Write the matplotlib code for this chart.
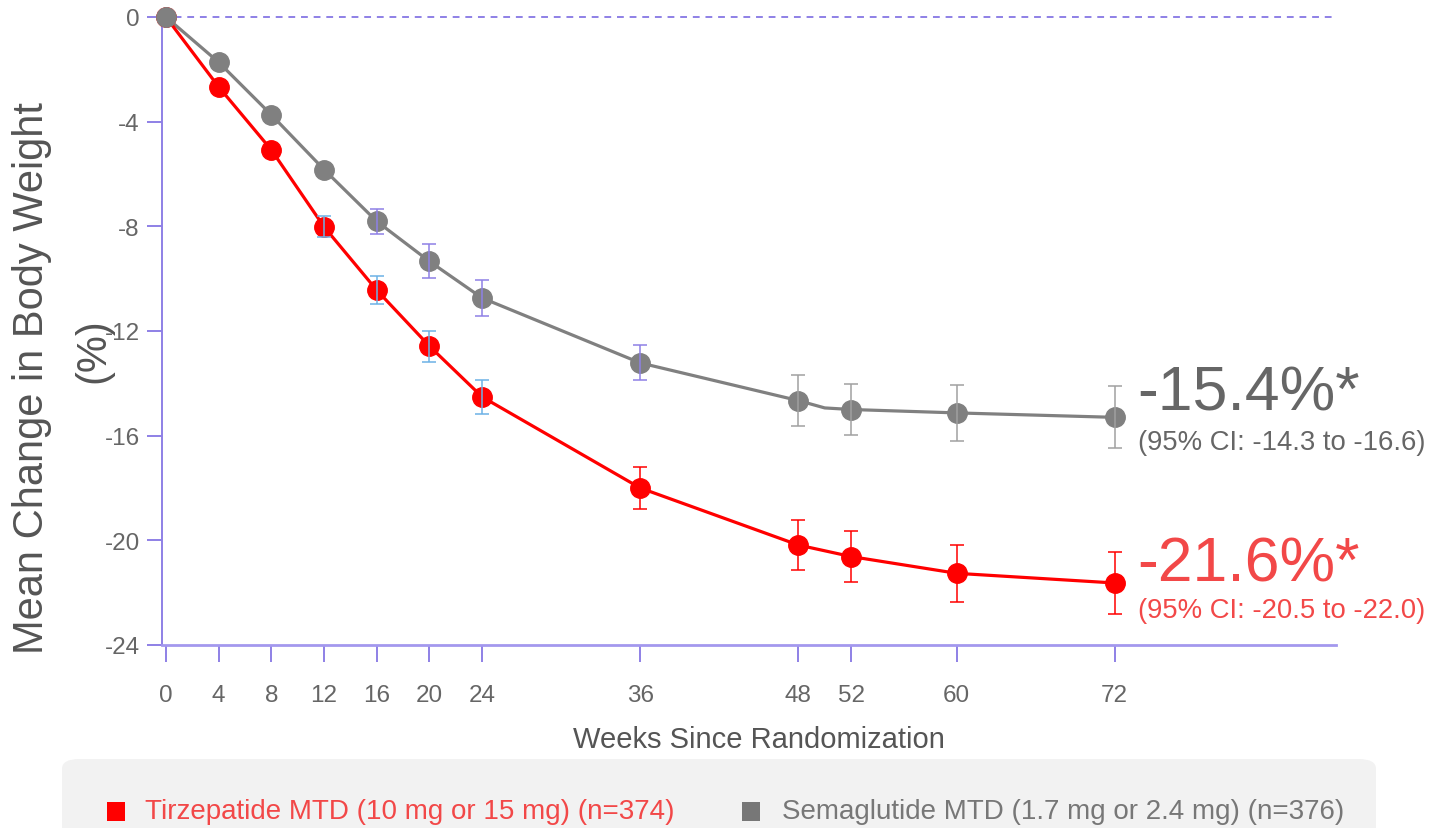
import matplotlib
matplotlib.use("Agg")
import matplotlib.pyplot as plt
from matplotlib.patches import FancyBboxPatch, Rectangle
import numpy as np

plt.rcParams["font.family"] = ["Liberation Sans", "DejaVu Sans"]
plt.rcParams["axes.unicode_minus"] = False

# data
weeks_tirz = [0, 4, 8, 12, 16, 20, 24, 36, 48, 52, 60, 72]
tirz = [0, -2.67, -5.08, -8.02, -10.44, -12.58, -14.52, -18.0, -20.18, -20.62, -21.26, -21.63]
tirz_err = [0, 0, 0, 0.40, 0.54, 0.59, 0.66, 0.81, 0.97, 0.97, 1.08, 1.19]

# gray line has an extra vertex at week 50 (no marker)
weeks_sema = [0, 4, 8, 12, 16, 20, 24, 36, 48, 50, 52, 60, 72]
sema = [0, -1.73, -3.74, -5.83, -7.81, -9.34, -10.74, -13.22, -14.66, -14.94, -15.0, -15.13, -15.3]
sema_err = [0, 0, 0, 0, 0.48, 0.65, 0.67, 0.67, 0.98, 0, 0.97, 1.07, 1.18]
sema_marked = [0, 1, 2, 3, 4, 5, 6, 7, 8, 10, 11, 12]

xticks = [0, 4, 8, 12, 16, 20, 24, 36, 48, 52, 60, 72]
yticks = [0, -4, -8, -12, -16, -20, -24]

tirz_label = "Tirzepatide MTD (10 mg or 15 mg) (n=374)"
sema_label = "Semaglutide MTD (1.7 mg or 2.4 mg) (n=376)"
tirz_result = "-21.6%*"
tirz_ci = "(95% CI: -20.5 to -22.0)"
sema_result = "-15.4%*"
sema_ci = "(95% CI: -14.3 to -16.6)"

RED = "#ff0000"
RED_TXT = "#f24848"
GRAY = "#808080"
GRAY_TXT = "#666666"
PURPLE = "#8e80e6"
BLUE = "#6cb2e6"

W, H = 1434, 829
fig = plt.figure(figsize=(W / 100, H / 100), dpi=100)
ax = fig.add_axes([162 / W, 1 - 646 / H, (1336 - 162) / W, (646 - 18) / H])

ax.plot(weeks_tirz, tirz, "o-", color=RED, lw=2.3, ms=14, zorder=3, clip_on=False)
ax.plot(weeks_sema, sema, "-", color=GRAY, lw=2.3, zorder=2, clip_on=False)
ax.plot(np.array(weeks_sema)[sema_marked], np.array(sema)[sema_marked], "o",
        color=GRAY, ms=14, zorder=3.5, clip_on=False)

# error bars: early weeks use a different colour
for x, y, e in zip(weeks_tirz, tirz, tirz_err):
    if e > 0:
        c = BLUE if x < 36 else RED
        ax.errorbar(x, y, yerr=e, fmt="none", ecolor=c, elinewidth=1.1,
                    capsize=5, capthick=1.1, zorder=4)
for x, y, e in zip(weeks_sema, sema, sema_err):
    if e > 0:
        c = PURPLE if x < 48 else "#a0a0a0"
        ax.errorbar(x, y, yerr=e, fmt="none", ecolor=c, elinewidth=1.1,
                    capsize=5, capthick=1.1, zorder=4)

ax.axhline(0, color=PURPLE, ls=(0, (3.5, 3)), lw=1.4, zorder=1, clip_on=False)

ax.set_xlim(-0.3, 88.8)
ax.set_ylim(-24, 0)
ax.set_xticks(xticks)
ax.set_yticks(yticks)
ax.spines["top"].set_visible(False)
ax.spines["right"].set_visible(False)
ax.spines["left"].set_color(PURPLE)
ax.spines["left"].set_linewidth(1.4)
ax.spines["bottom"].set_color("#a398ee")
ax.spines["bottom"].set_linewidth(2)
ax.tick_params(axis="y", direction="out", length=11, width=1.4, color=PURPLE,
               labelsize=17.5, labelcolor=GRAY_TXT, pad=5)
ax.tick_params(axis="x", direction="out", length=12, width=1.4, color=PURPLE,
               labelsize=17.5, labelcolor=GRAY_TXT, pad=16)

fig.text(32 / W, 1 - 378 / H, "Mean Change in Body Weight", rotation=90,
         ha="center", va="center", fontsize=30, color="#555555")
fig.text(93 / W, 1 - 351 / H, "(%)", rotation=90,
         ha="center", va="center", fontsize=30, color="#555555")
fig.text(759 / W, 1 - 740 / H, "Weeks Since Randomization", ha="center",
         va="center", fontsize=21, color="#555555")

# end labels
ax.annotate(sema_result, xy=(weeks_sema[-1], sema[-1]), xytext=(16.5, 5.5),
            textcoords="offset points", fontsize=45, color=GRAY_TXT, va="baseline")
ax.annotate(sema_ci, xy=(weeks_sema[-1], sema[-1]), xytext=(16.5, -22.5),
            textcoords="offset points", fontsize=19.8, color=GRAY_TXT, va="baseline")
ax.annotate(tirz_result, xy=(weeks_tirz[-1], tirz[-1]), xytext=(16.5, 1.5),
            textcoords="offset points", fontsize=45, color=RED_TXT, va="baseline")
ax.annotate(tirz_ci, xy=(weeks_tirz[-1], tirz[-1]), xytext=(16.5, -24.5),
            textcoords="offset points", fontsize=19.8, color=RED_TXT, va="baseline")

# legend panel
box = FancyBboxPatch((62 / W, -0.05), (1376 - 62) / W, (0.05 + 1 - 760 / H),
                     boxstyle="round,pad=0,rounding_size=0.012",
                     transform=fig.transFigure, facecolor="#f2f2f2",
                     edgecolor="none", zorder=0)
fig.patches.append(box)
fig.patches.append(Rectangle((107 / W, 1 - 822 / H), 18 / W, 19 / H,
                             transform=fig.transFigure, facecolor=RED, edgecolor="none"))
fig.patches.append(Rectangle((742 / W, 1 - 822 / H), 18 / W, 19 / H,
                             transform=fig.transFigure, facecolor="#777777", edgecolor="none"))
fig.text(145 / W, 1 - 812 / H, tirz_label, ha="left", va="center",
         fontsize=20, color=RED_TXT)
fig.text(782 / W, 1 - 812 / H, sema_label, ha="left", va="center",
         fontsize=20, color="#777777")

fig.savefig("out.png", dpi=100)
